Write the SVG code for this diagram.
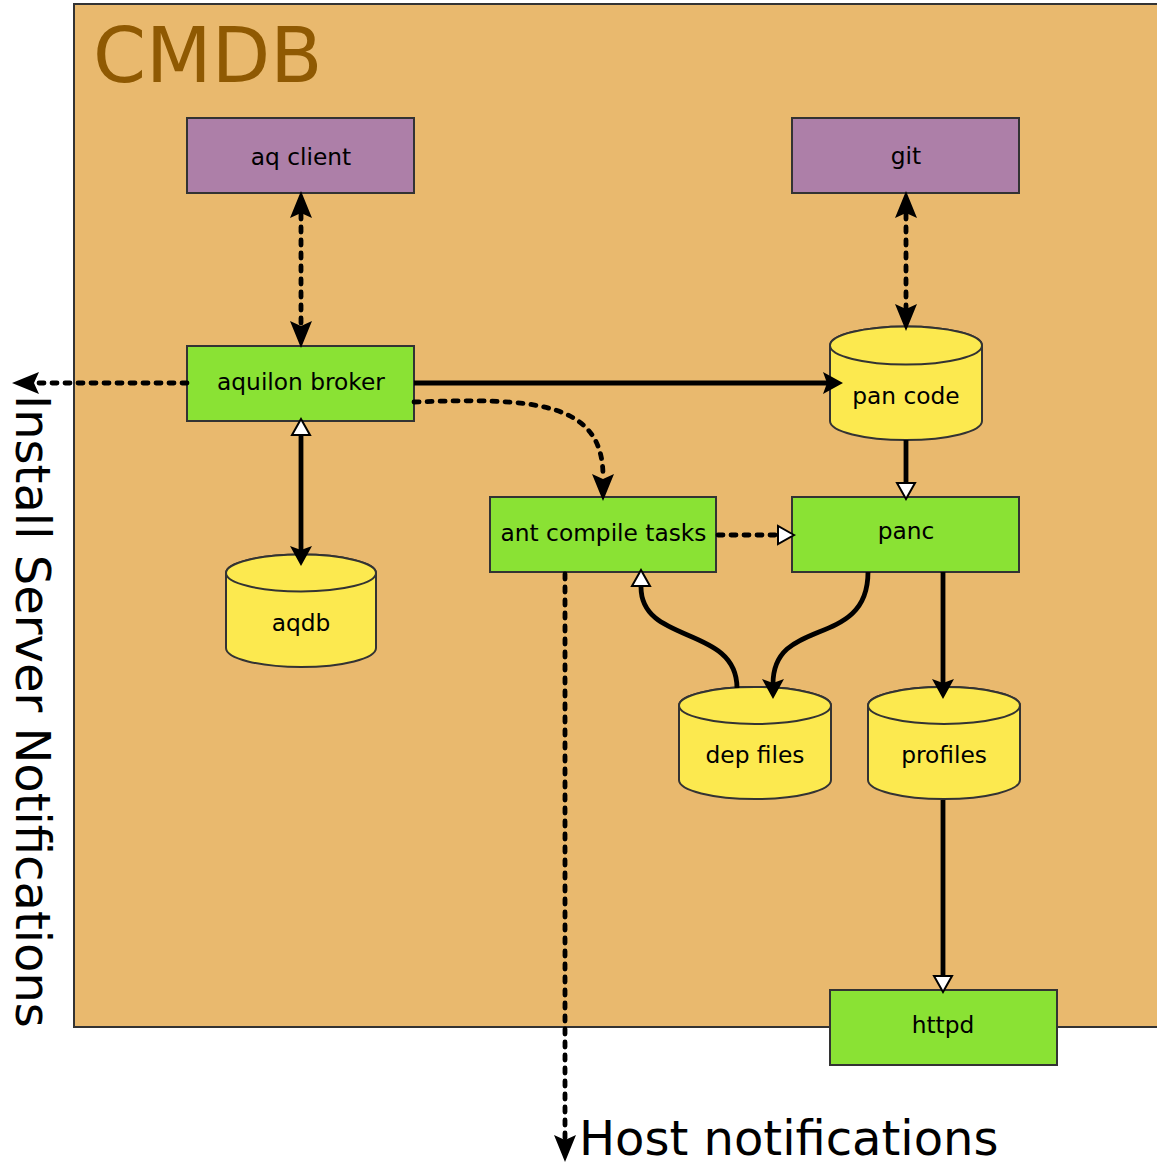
<svg xmlns="http://www.w3.org/2000/svg" xmlns:xlink="http://www.w3.org/1999/xlink" width="1157" height="1164" viewBox="0 0 1157 1164">
<style>
  .t { font-family: "DejaVu Sans", "Liberation Sans", sans-serif; fill: #000; text-anchor: middle; font-size: 23.3px; }
  .box { stroke: #333; stroke-width: 2px; }
  .purple { fill: #ad7fa8; }
  .green { fill: #8ae234; }
  .cyl { fill: #fce94f; stroke: #333; stroke-width: 2px; }
  .solid { fill: none; stroke: #000; stroke-width: 4.8px; }
  .dash { fill: none; stroke: #000; stroke-width: 4.8px; stroke-dasharray: 5px 8px; stroke-linecap: round; }
  .big { font-family: "DejaVu Sans", "Liberation Sans", sans-serif; fill: #000; font-size: 48px; }
  .hb { fill: #000; stroke: none; }
  .hw { fill: #fff; stroke: #000; stroke-width: 2px; stroke-linejoin: miter; }
</style>
<defs>
  <path id="hd" d="M0,0 L-27,-11 L-22,0 L-27,11 Z"/>
  <path id="hs" d="M0,0 L-20,-11 L-16,0 L-20,11 Z"/>
  <path id="hwp" d="M-1,0 L-17,-9 L-17,9 Z"/>
</defs>

<g id="cmdb">
  <rect x="74" y="4" width="1090" height="1023" fill="#e9b96e" stroke="#333" stroke-width="2"/>
  <text x="93" y="82" font-family="DejaVu Sans, Liberation Sans, sans-serif" font-size="76" fill="#8f5902">CMDB</text>
</g>

<g id="aq-client">
  <rect class="box purple" x="187" y="118" width="227" height="75"/>
  <text class="t" x="301" y="165">aq client</text>
</g>
<g id="git">
  <rect class="box purple" x="792" y="118" width="227" height="75"/>
  <text class="t" x="906" y="164">git</text>
</g>
<g id="aquilon-broker">
  <rect class="box green" x="187" y="346" width="227" height="75"/>
  <text class="t" x="301" y="390">aquilon broker</text>
</g>
<g id="ant-compile-tasks">
  <rect class="box green" x="490" y="497" width="226" height="75"/>
  <text class="t" x="603.5" y="541">ant compile tasks</text>
</g>
<g id="panc">
  <rect class="box green" x="792" y="497" width="227" height="75"/>
  <text class="t" x="906" y="539">panc</text>
</g>
<g id="httpd">
  <rect class="box green" x="830" y="990" width="227" height="75"/>
  <text class="t" x="943" y="1033">httpd</text>
</g>

<g id="aqdb">
  <path class="cyl" d="M226,573 L226,648 A75,19 0 0 0 376,648 L376,573 A75,18.5 0 0 0 226,573 Z"/>
  <ellipse class="cyl" cx="301" cy="573" rx="75" ry="18.5"/>
  <text class="t" x="301" y="631">aqdb</text>
</g>
<g id="pan-code">
  <path class="cyl" d="M830,345.5 L830,421 A76,19 0 0 0 982,421 L982,345.5 A76,19 0 0 0 830,345.5 Z"/>
  <ellipse class="cyl" cx="906" cy="345.5" rx="76" ry="19"/>
  <text class="t" x="906" y="404">pan code</text>
</g>
<g id="dep-files">
  <path class="cyl" d="M679,705.5 L679,780 A76,19 0 0 0 831,780 L831,705.5 A76,18.5 0 0 0 679,705.5 Z"/>
  <ellipse class="cyl" cx="755" cy="705.5" rx="76" ry="18.5"/>
  <text class="t" x="755" y="763">dep files</text>
</g>
<g id="profiles">
  <path class="cyl" d="M868,705.5 L868,780 A76,19 0 0 0 1020,780 L1020,705.5 A76,18.5 0 0 0 868,705.5 Z"/>
  <ellipse class="cyl" cx="944" cy="705.5" rx="76" ry="18.5"/>
  <text class="t" x="944" y="763">profiles</text>
</g>

<g id="connectors">
  <path class="dash" d="M301,214 L301,324"/>
  <use xlink:href="#hd" href="#hd" class="hb" transform="translate(301,191) rotate(-90)"/>
  <use xlink:href="#hd" href="#hd" class="hb" transform="translate(301,348) rotate(90)"/>

  <path class="dash" d="M906,214 L906,308"/>
  <use xlink:href="#hd" href="#hd" class="hb" transform="translate(906,191) rotate(-90)"/>
  <use xlink:href="#hd" href="#hd" class="hb" transform="translate(906,331) rotate(90)"/>

  <path class="solid" d="M414,383 L828,383"/>
  <use xlink:href="#hs" href="#hs" class="hb" transform="translate(843,383)"/>

  <path class="dash" d="M187,383 L36,383"/>
  <use xlink:href="#hd" href="#hd" class="hb" transform="translate(12,383) rotate(180)"/>

  <path class="dash" d="M414,402 C530,398 603,400 603,476"/>
  <use xlink:href="#hd" href="#hd" class="hb" transform="translate(603,501) rotate(90)"/>

  <path class="solid" d="M301,436 L301,550"/>
  <use xlink:href="#hwp" href="#hwp" class="hw" transform="translate(301,418) rotate(-90)"/>
  <use xlink:href="#hs" href="#hs" class="hb" transform="translate(301,566) rotate(90)"/>

  <path class="dash" d="M718,535 L777,535"/>
  <use xlink:href="#hwp" href="#hwp" class="hw" transform="translate(795,535)"/>

  <path class="solid" d="M906,440 L906,484"/>
  <use xlink:href="#hwp" href="#hwp" class="hw" transform="translate(906,500) rotate(90)"/>

  <path class="solid" d="M737,688 C737,625 641,645 641,587"/>
  <use xlink:href="#hwp" href="#hwp" class="hw" transform="translate(641,569) rotate(-90)"/>

  <path class="solid" d="M868,572 C868,650 773,615 773,684"/>
  <use xlink:href="#hs" href="#hs" class="hb" transform="translate(773,699) rotate(90)"/>

  <path class="solid" d="M943,572 L943,684"/>
  <use xlink:href="#hs" href="#hs" class="hb" transform="translate(943,699) rotate(90)"/>

  <path class="solid" d="M943,800 L943,976"/>
  <use xlink:href="#hwp" href="#hwp" class="hw" transform="translate(943,993) rotate(90)"/>

  <path class="dash" d="M565,574 L565,1140"/>
  <use xlink:href="#hd" href="#hd" class="hb" transform="translate(565,1162) rotate(90)"/>
</g>

<g id="labels">
  <text class="big" transform="translate(16,395) rotate(90)">Install Server Notifications</text>
  <text class="big" x="579" y="1155">Host notifications</text>
</g>
</svg>
